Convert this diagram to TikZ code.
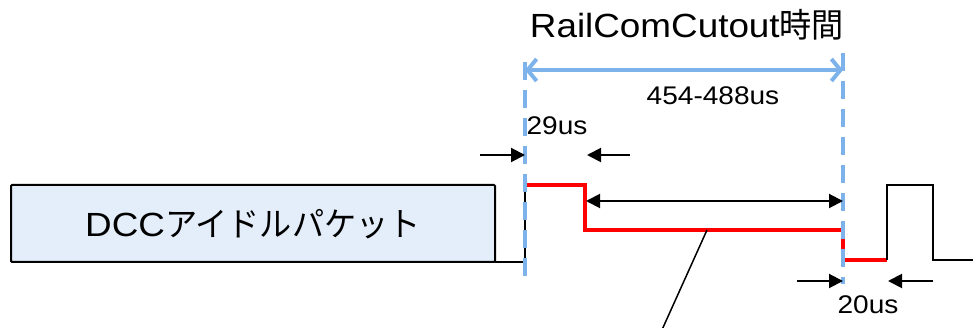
\documentclass[tikz,border=0pt]{standalone}
\usepackage{fontspec}
\setmainfont[FakeStretch=1.1]{Liberation Sans}
\newfontfamily\cjk[FakeStretch=0.96]{Noto Sans CJK JP}
\usetikzlibrary{arrows.meta}
\definecolor{cutblue}{RGB}{125,178,235}
\definecolor{boxfill}{RGB}{227,238,250}
\definecolor{sigred}{RGB}{255,0,0}
\tikzset{
  sig/.style={line width=2pt, black},
  redsig/.style={line width=3.2pt, sigred},
  bluedash/.style={line width=4pt, cutblue, dash pattern=on 18pt off 10pt},
  bluearrow/.style={line width=4pt, cutblue, {Straight Barb[length=9pt,width=22pt]}-{Straight Barb[length=9pt,width=22pt]}},
  blkarrow/.style={line width=2pt, -{Triangle[length=14pt,width=14pt]}},
  blkdbl/.style={line width=2pt, {Triangle[length=14pt,width=14pt]}-{Triangle[length=14pt,width=14pt]}},
  lbl/.style={inner sep=0pt, anchor=base, font=\fontsize{25.5pt}{28pt}\selectfont},
  bigtxt/.style={inner sep=0pt, anchor=base, font=\fontsize{33.5pt}{36pt}\selectfont},
  packet/.style={draw=black, line width=2pt, fill=boxfill, rounded corners=1pt}
}
\begin{document}
\begin{tikzpicture}[x=1pt,y=-1pt]
\useasboundingbox (0,0) rectangle (973,328);
% packet box
\draw[packet] (11,185) rectangle (495,262);
\node[bigtxt] (pkt) at (253,237) {DCC{\cjk アイドルパケット}};
% signal
\coordinate (s0) at (495,262);
\coordinate (s1) at (525,262);
\coordinate (s2) at (525,185);
\coordinate (r1) at (585,185);
\coordinate (r2) at (585,230);
\coordinate (r3) at (843,230);
\coordinate (r4) at (843,260);
\coordinate (r5) at (887,260);
\coordinate (b1) at (887,185);
\coordinate (b2) at (933,185);
\coordinate (b3) at (933,260);
\coordinate (b4) at (973,260);
\draw[sig] (s0) -- (s1) -- (s2);
\draw[redsig, line join=miter] (s2) -- (r1) -- (r2) -- (r3) -- (r4) -- (r5);
\draw[sig] (r5) -- (b1) -- (b2) -- (b3) -- (b4);
% blue cutout markers
\coordinate (lt) at (525,62);
\coordinate (lb) at (525,280);
\coordinate (rt) at (843,53);
\coordinate (rb) at (843,284);
\draw[bluedash] (lt) -- (lb);
\draw[bluedash] (rt) -- (rb);
\coordinate (ba) at (525,70);
\coordinate (bb) at (843,70);
\draw[bluearrow] (ba) -- (bb);
% title and labels
\node[bigtxt] (title) at (687,38) {RailComCutout{\cjk 時間}};
\node[lbl] (dur) at (713,105) {454-488us};
\node[lbl] (t29) at (557,135) {29us};
\node[lbl] (t20) at (868,313) {20us};
% 29us arrows
\coordinate (a1) at (480,155);
\coordinate (a2) at (525,155);
\coordinate (a3) at (630,155);
\coordinate (a4) at (587,155);
\draw[blkarrow] (a1) -- (a2);
\draw[blkarrow] (a3) -- (a4);
% long double arrow
\coordinate (d1) at (586,201);
\coordinate (d2) at (843,201);
\draw[blkdbl] (d1) -- (d2);
% 20us arrows
\coordinate (c1) at (797,281);
\coordinate (c2) at (843,281);
\coordinate (c3) at (933,281);
\coordinate (c4) at (888,281);
\draw[blkarrow] (c1) -- (c2);
\draw[blkarrow] (c3) -- (c4);
% pointer line
\coordinate (p1) at (707,230);
\coordinate (p2) at (661,332);
\draw[line width=1.5pt] (p1) -- (p2);
\end{tikzpicture}
\end{document}
